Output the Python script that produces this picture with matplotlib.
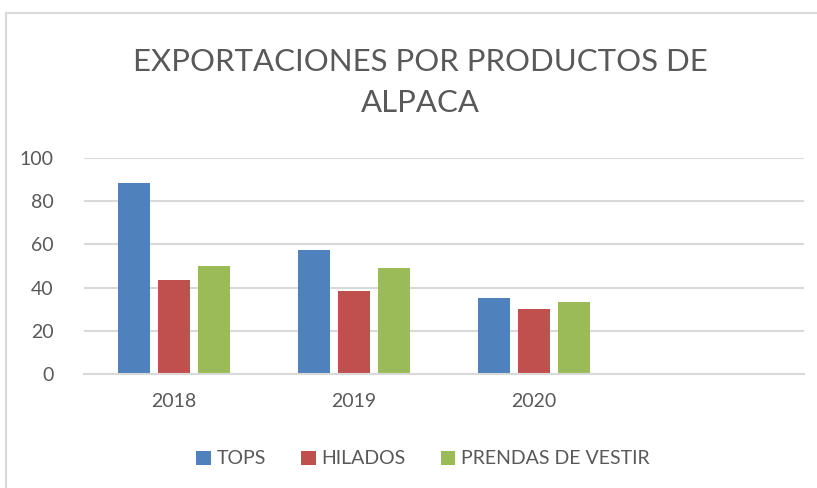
import numpy as np
import matplotlib.pyplot as plt
from matplotlib.patches import Rectangle

years = ['2018', '2019', '2020', '']
series = ['TOPS', 'HILADOS', 'PRENDAS DE VESTIR']
tops = [88.5, 57.5, 35.3, np.nan]
hilados = [43.5, 38.5, 30.1, np.nan]
prendas = [50.0, 49.1, 33.3, np.nan]
colors = ['#4F81BD', '#C0504D', '#9BBB59']

plt.rcParams['font.family'] = ['Lato', 'DejaVu Sans']
txt = '#595959'

fig = plt.figure(figsize=(8.17, 4.88), dpi=100)
fig.patches.append(Rectangle((6 / 817, -0.1), 1.1, 1 - 13 / 488 + 0.1,
                             transform=fig.transFigure, fill=False,
                             edgecolor='#D9D9D9', linewidth=1.5))
ax = fig.add_axes([84 / 817, 1 - 374 / 488, 720 / 817, 216 / 488])

x = np.arange(len(years))
w = 32 / 180
step = 40 / 180
for i, (name, vals) in enumerate(zip(series, [tops, hilados, prendas])):
    ax.bar(x + (i - 1) * step, vals, w, color=colors[i], label=name)

ax.set_xlim(-0.5, 3.5)
ax.set_ylim(0, 100)
ax.set_yticks(range(0, 101, 20))
ax.set_xticks(x)
ax.set_xticklabels(years)
ax.yaxis.grid(True, color='#D9D9D9', linewidth=1.5)
ax.set_axisbelow(True)
for s in ['top', 'right', 'left']:
    ax.spines[s].set_visible(False)
ax.spines['bottom'].set_color('#D9D9D9')
ax.spines['bottom'].set_linewidth(1.5)
ax.tick_params(length=0, labelsize=14, labelcolor=txt)
ax.tick_params(axis='y', pad=22)
ax.tick_params(axis='x', pad=14)

# two-line title, Excel style
fig.text(420 / 817, 1 - 62 / 488, 'EXPORTACIONES POR PRODUCTOS DE', ha='center',
         va='center', fontsize=22.4, color=txt)
fig.text(420 / 817, 1 - 103 / 488, 'ALPACA', ha='center', va='center',
         fontsize=22.4, color=txt)

fig.legend(loc='center', bbox_to_anchor=(0.518, 1 - 459 / 488), ncol=3,
           frameon=False, fontsize=14, labelcolor=txt, handlelength=0.75,
           handleheight=0.75, handletextpad=0.3, columnspacing=1.8)

plt.savefig('out.png', dpi=100)
